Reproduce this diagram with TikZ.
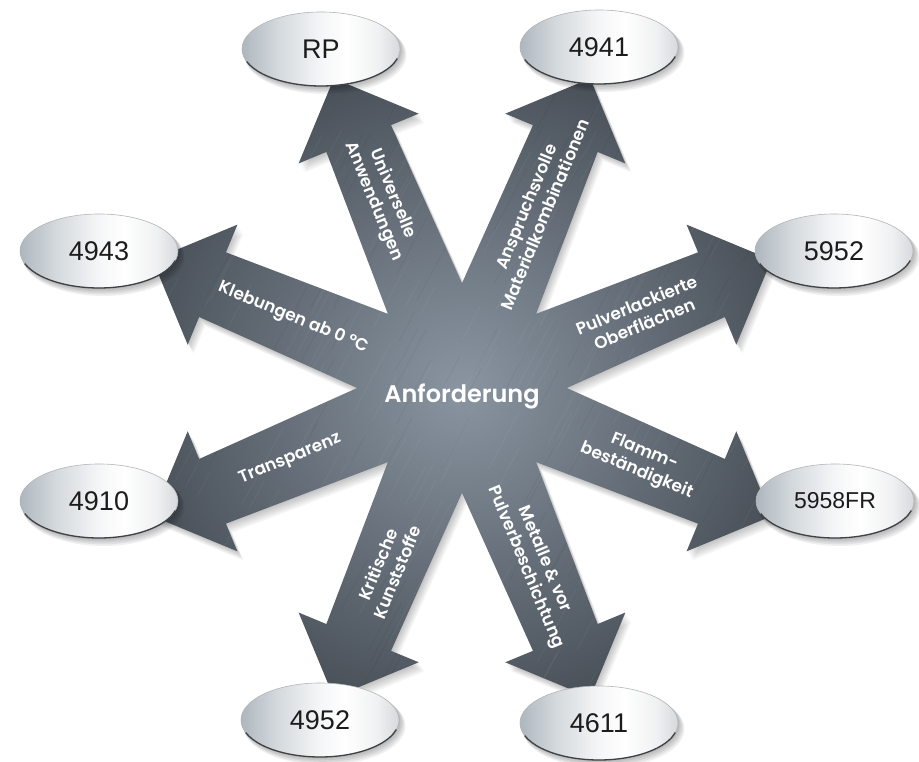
\documentclass[tikz,border=0pt]{standalone}
\usepackage{fontspec}
\setmainfont{Poppins}
\newfontfamily\lblfont{Poppins}[UprightFont=* SemiBold, BoldFont=* SemiBold]
\newfontfamily\ellfont{Liberation Sans}
\usetikzlibrary{calc}
\definecolor{tipc}{HTML}{434A52}
\definecolor{hubc}{HTML}{8A95A1}
\definecolor{silA}{HTML}{AEB6BE}
\definecolor{silB}{HTML}{D3D8DC}
\definecolor{silD}{HTML}{F5F6F7}
\definecolor{silE}{HTML}{F0F1F2}
\definecolor{silC}{HTML}{D6D9DC}
\definecolor{rimc}{HTML}{3E4246}
\definecolor{elltext}{HTML}{1C1C1C}
\pgfdeclarehorizontalshading{silver}{100bp}{color(0bp)=(silA); color(25bp)=(silA); color(36bp)=(silB); color(50bp)=(silD); color(58bp)=(white); color(68bp)=(silE); color(75bp)=(silC); color(100bp)=(silC)}
\newcommand\starpath{\foreach \a in {22.5,67.5,...,337.5}{([rotate=\a]0,-43) -- ([rotate=\a]270,-35) -- ([rotate=\a]270,-65) -- ([rotate=\a]335,0) -- ([rotate=\a]270,65) -- ([rotate=\a]270,35) -- ([rotate=\a]0,43) -- cycle}}
\newcommand\silverell[4]{%
  \foreach \s in {1,...,5}{\fill[black,opacity=0.06] ($(#2)+(\s*0.9,-\s*1.2)$) ellipse [x radius=79+\s*0.4, y radius=37+\s*0.4];}
  \shade[shading=silver] (#2) ellipse [x radius=79, y radius=37];
  \draw[silC!60!gray, line width=0.6] (#2) ellipse [x radius=79, y radius=37];
  \draw[rimc, line width=1.3] ($(#2)+(200:79 and 37)$) arc[start angle=200, end angle=345, x radius=79, y radius=37];
  \node[elltxt, #4] (#1) at (#2) {#3};
}
\tikzset{
  lbl/.style={text=white, font=\lblfont\fontsize{17}{20.5}\selectfont, align=center, inner sep=0pt},
  elltxt/.style={text=elltext, inner sep=0pt},
  big/.style={font=\ellfont\fontsize{27}{30}\selectfont},
  small/.style={font=\ellfont\fontsize{23}{26}\selectfont}
}
\begin{document}
\begin{tikzpicture}[x=1pt,y=1pt]
\useasboundingbox (0,0) rectangle (919,762);
\fill[white] (0,0) rectangle (919,762);
\begin{scope}[shift={(462,374)}]
  \coordinate (C) at (0,0);
  % soft shadow
  \foreach \s in {1,...,6}{\fill[black,opacity=0.04,shift={(\s*1.0,-\s*1.5)}] \starpath;}
  % metallic star
  \begin{scope}
    \clip \starpath;
    \shade[inner color=hubc, outer color=tipc] (0,0) circle (360);
    \pgfmathsetseed{7}
    \foreach \i in {1,...,220}{
      \pgfmathsetmacro\px{rand*330}
      \pgfmathsetmacro\py{rand*330}
      \pgfmathsetmacro\ll{20+rnd*70}
      \draw[white,opacity=0.05,line width=0.7] (\px,\py) -- ++(62:\ll);
    }
    \foreach \i in {1,...,160}{
      \pgfmathsetmacro\px{rand*330}
      \pgfmathsetmacro\py{rand*330}
      \pgfmathsetmacro\ll{20+rnd*70}
      \draw[black,opacity=0.05,line width=0.7] (\px,\py) -- ++(62:\ll);
    }
  \end{scope}
  % labels
  \node[text=white, font=\lblfont\fontsize{24}{28}\selectfont, inner sep=0pt] (center) at (0,-8) {Anforderung};
  \node[lbl, rotate=-67.5] (t1) at (112.5:206) {Universelle\\Anwendungen};
  \node[lbl, rotate=67.5]  (t2) at (67.5:192) {Anspruchsvolle\\Materialkombinationen};
  \node[lbl, rotate=22.5]  (t3) at (22.5:193) {Pulverlackierte\\Oberflächen};
  \node[lbl, rotate=-22.5] (t4) at (157.5:183) {Klebungen ab 0 °C};
  \node[lbl, rotate=22.5]  (t5) at (202.5:186) {Transparenz};
  \node[lbl, rotate=-22.5] (t6) at (337.5:193) {Flamm-\\beständigkeit};
  \node[lbl, rotate=67.5]  (t7) at (247.5:195) {Kritische\\Kunststoffe};
  \node[lbl, rotate=-67.5] (t8) at (292.5:190) {Metalle \& vor\\Pulverbeschichtung};
\end{scope}
% end ellipses
\silverell{e1}{321,713}{RP}{big}
\silverell{e2}{599,715}{4941}{big}
\silverell{e3}{834,511}{5952}{big}
\silverell{e4}{99,511}{4943}{big}
\silverell{e5}{99,261}{4910}{big}
\silverell{e6}{835,261}{5958FR}{small}
\silverell{e7}{320,42}{4952}{big}
\silverell{e8}{599,39}{4611}{big}
\end{tikzpicture}
\end{document}
